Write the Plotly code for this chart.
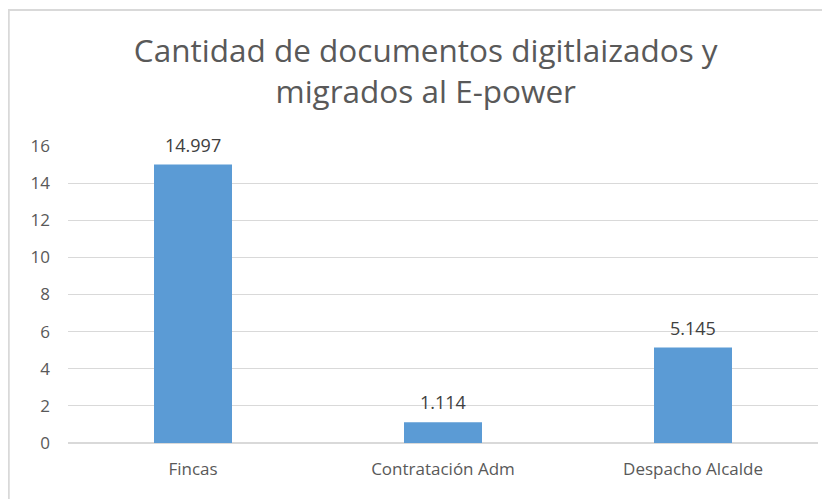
import plotly.graph_objects as go

categorias = ["Fincas", "Contratación Adm", "Despacho Alcalde"]
valores = [14.997, 1.114, 5.145]
etiquetas = ["14.997", "1.114", "5.145"]
ticks_y = [0, 2, 4, 6, 8, 10, 12, 14, 16]

TXTCOL = "#595959"
GRDCOL = "#d9d9d9"
BARCOL = "#5b9bd5"
FONT = "Open Sans"

fig = go.Figure()

fig.add_trace(go.Bar(
    x = categorias,
    y = valores,
    marker = dict(color = BARCOL, line = dict(width = 0)),
))

# data labels above the bars
for cat, val, lab in zip(categorias, valores, etiquetas):
    fig.add_annotation(
        x = cat, y = val, text = lab,
        yanchor = "bottom", yshift = 6,
        showarrow = False,
        font = dict(size = 18, color = "#404040"),
    )

fig.update_xaxes(
    showgrid = False,
    showline = False,
    ticks = "",
    ticklabelstandoff = 14,
    tickfont = dict(size = 17, color = TXTCOL),
)

fig.update_yaxes(
    range = [0, 16],
    tickvals = ticks_y,
    showgrid = True,
    gridcolor = GRDCOL,
    gridwidth = 1,
    zeroline = True,
    zerolinecolor = GRDCOL,
    zerolinewidth = 2,
    ticks = "",
    ticklabelstandoff = 17,
    tickfont = dict(size = 17, color = TXTCOL),
)

# chart border (Excel-style frame)
fig.add_shape(
    type = "rect", xref = "paper", yref = "paper",
    x0 = -0.079, x1 = 1.02, y0 = -0.4, y1 = 1.458,
    line = dict(color = GRDCOL, width = 2),
    layer = "below",
)

# page body has an 8px margin, so the figure is a bit smaller than the window
fig.update_layout(
    title = dict(
        text = "Cantidad de documentos digitlaizados y<br>migrados al E-power",
        x = 0.477, xanchor = "center", y = 0.89, yanchor = "top",
        xref = "paper", yref = "container",
        font = dict(size = 31.5, color = TXTCOL, family = FONT),
    ),
    font = dict(family = FONT, color = TXTCOL),
    bargap = 0.688,
    width = 822,
    height = 491,
    margin = dict(l = 60, r = 12, t = 138, b = 56, pad = 0),
    paper_bgcolor = "white",
    plot_bgcolor = "white",
    showlegend = False,
)

fig.write_html("out.html")
